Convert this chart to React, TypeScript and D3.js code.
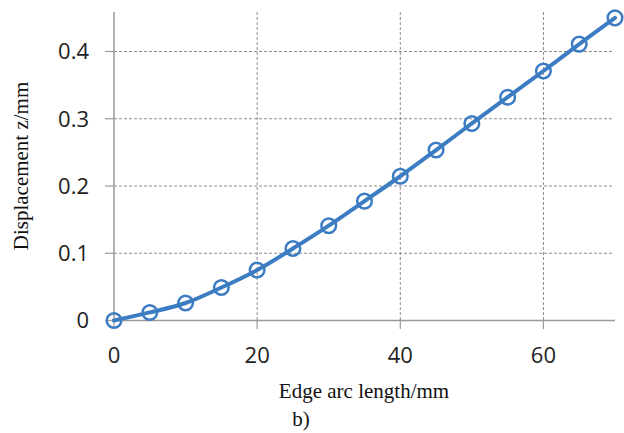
import React from "react";
import * as d3 from "d3";

const arcLength = [0, 5, 10, 15, 20, 25, 30, 35, 40, 45, 50, 55, 60, 65, 70];
const displacement = [0, 0.012, 0.026, 0.049, 0.075, 0.107, 0.141, 0.1775, 0.2145, 0.2535, 0.293, 0.332, 0.371, 0.411, 0.45];
const xTicks = [0, 20, 40, 60];
const yTicks = [0, 0.1, 0.2, 0.3, 0.4];
const yTickLabels = ["0", "0.1", "0.2", "0.3", "0.4"];

const W = 624;
const H = 433;

export default function App() {
  const x = d3.scaleLinear().domain([0, 70]).range([114, 615]);
  const y = d3.scaleLinear().domain([0, 0.4]).range([320.5, 51.5]);
  const top = 12;
  const pts: [number, number][] = arcLength.map((a, i) => [x(a), y(displacement[i])]);
  const line = d3.line().curve(d3.curveCatmullRom.alpha(0.5))(pts) || "";
  const blue = "#3C7CC2";
  const grid = "#8c8c8c";
  const axis = "#9a9a9a";
  return (
    <svg width={W} height={H} style={{ position: "absolute", left: 0, top: 0, background: "#fff" }}>
      {yTicks.map((t, i) => (
        <g key={"h" + t}>
          {t > 0 && (
            <line x1={x(0)} x2={614} y1={y(t)} y2={y(t)} stroke={grid} strokeWidth={1} strokeDasharray="3,2" />
          )}
          <line x1={105} x2={x(0)} y1={y(t)} y2={y(t)} stroke={axis} strokeWidth={1.2} />
          <text
            x={89}
            y={y(t)}
            dy="0.36em"
            textAnchor="end"
            fontFamily="'Open Sans', sans-serif"
            fontSize={22}
            fill="#222"
          >
            {yTickLabels[i]}
          </text>
        </g>
      ))}
      {xTicks.map((t) => (
        <g key={"v" + t}>
          {t > 0 && (
            <line x1={x(t)} x2={x(t)} y1={top} y2={y(0)} stroke={grid} strokeWidth={1} strokeDasharray="3,2" />
          )}
          <line x1={x(t)} x2={x(t)} y1={y(0)} y2={329} stroke={axis} strokeWidth={1.2} />
          <text
            x={x(t)}
            y={363}
            textAnchor="middle"
            fontFamily="'Open Sans', sans-serif"
            fontSize={22}
            fill="#222"
          >
            {t}
          </text>
        </g>
      ))}
      <line x1={x(0)} x2={x(0)} y1={top} y2={y(0)} stroke={axis} strokeWidth={1.5} />
      <line x1={x(0)} x2={615} y1={y(0)} y2={y(0)} stroke={axis} strokeWidth={1.5} />
      <path d={line} fill="none" stroke={blue} strokeWidth={4} strokeLinecap="round" />
      {pts.map((p, i) => (
        <circle key={i} cx={p[0]} cy={p[1]} r={7.3} fill="none" stroke={blue} strokeWidth={2.5} />
      ))}
      <text
        x={364}
        y={398}
        textAnchor="middle"
        fontFamily="'Liberation Serif', 'Times New Roman', serif"
        fontSize={21}
        fill="#111"
      >
        Edge arc length/mm
      </text>
      <text
        transform="translate(28,166) rotate(-90)"
        textAnchor="middle"
        fontFamily="'Liberation Serif', 'Times New Roman', serif"
        fontSize={21}
        fill="#111"
      >
        Displacement z/mm
      </text>
      <text
        x={301}
        y={426}
        textAnchor="middle"
        fontFamily="'Liberation Serif', 'Times New Roman', serif"
        fontSize={21}
        fill="#111"
      >
        b)
      </text>
    </svg>
  );
}
